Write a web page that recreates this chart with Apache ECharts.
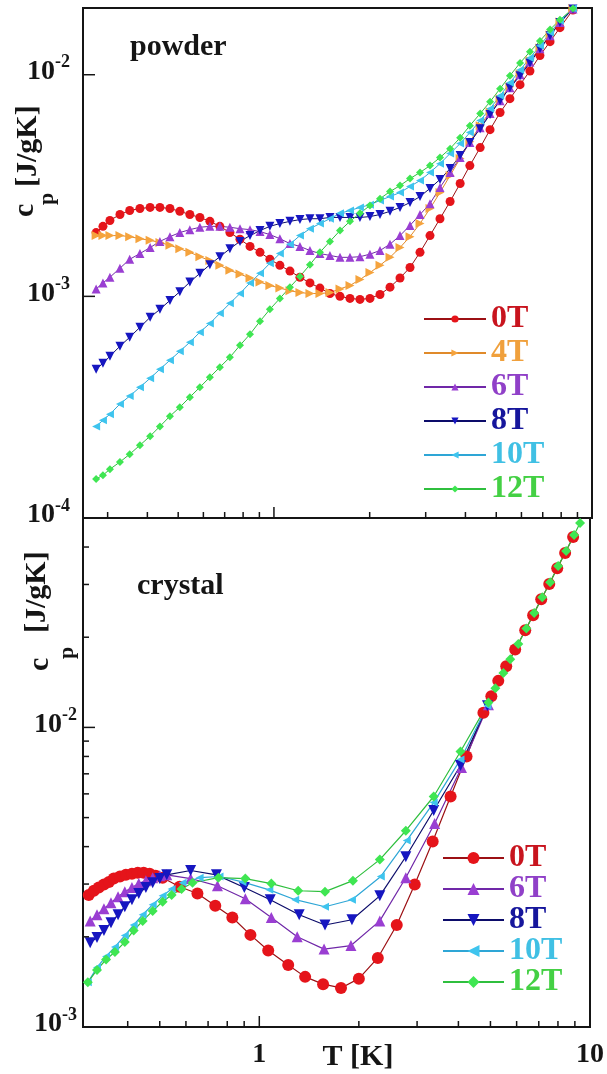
<!DOCTYPE html>
<html>
<head>
<meta charset="utf-8">
<script src="https://cdn.jsdelivr.net/npm/echarts@6/dist/echarts.min.js"></script>
<style>
html, body { margin: 0; padding: 0; background: #ffffff; }
#chart { width: 607px; height: 1074px; }
</style>
</head>
<body>
<div id="chart"></div>
<script>
// ---------- powder sample: temperature grid (K) shared by every field ----------
const powderT = [0.276,0.290,0.305,0.328,0.352,0.379,0.408,0.438,0.471,0.506,
  0.544,0.585,0.629,0.676,0.727,0.782,0.841,0.904,0.971,1.044,
  1.123,1.207,1.298,1.395,1.500,1.613,1.734,1.864,2.004,2.155,
  2.317,2.491,2.678,2.879,3.095,3.327,3.58,3.85,4.13,4.45,
  4.78,5.14,5.52,5.94,6.38,6.86,7.38,7.93,8.71];

// specific heat c_p (J/gK) of the powder
const powder0T = [1.94e-3,2.07e-3,2.20e-3,2.34e-3,2.44e-3,2.49e-3,2.52e-3,2.52e-3,2.49e-3,2.42e-3,
  2.34e-3,2.27e-3,2.18e-3,2.07e-3,1.94e-3,1.81e-3,1.68e-3,1.58e-3,1.47e-3,1.38e-3,
  1.30e-3,1.22e-3,1.15e-3,1.09e-3,1.03e-3,1.00e-3,9.79e-4,9.69e-4,9.79e-4,1.02e-3,
  1.10e-3,1.21e-3,1.35e-3,1.58e-3,1.88e-3,2.24e-3,2.68e-3,3.23e-3,3.89e-3,4.69e-3,
  5.65e-3,6.75e-3,7.80e-3,9.02e-3,1.04e-2,1.22e-2,1.41e-2,1.63e-2,1.96e-2];
const powder4T = [1.88e-3,1.88e-3,1.88e-3,1.88e-3,1.86e-3,1.82e-3,1.79e-3,1.75e-3,1.70e-3,1.64e-3,
  1.58e-3,1.51e-3,1.45e-3,1.38e-3,1.31e-3,1.26e-3,1.21e-3,1.16e-3,1.12e-3,1.09e-3,
  1.06e-3,1.04e-3,1.03e-3,1.03e-3,1.04e-3,1.08e-3,1.12e-3,1.19e-3,1.28e-3,1.38e-3,
  1.50e-3,1.66e-3,1.86e-3,2.13e-3,2.49e-3,2.94e-3,3.51e-3,4.19e-3,4.99e-3,5.89e-3,
  6.81e-3,7.80e-3,8.83e-3,1.01e-2,1.16e-2,1.32e-2,1.51e-2,1.73e-2,1.99e-2];
const powder6T = [1.08e-3,1.15e-3,1.22e-3,1.34e-3,1.47e-3,1.56e-3,1.66e-3,1.77e-3,1.86e-3,1.94e-3,
  2.00e-3,2.05e-3,2.07e-3,2.07e-3,2.05e-3,2.02e-3,2.00e-3,1.96e-3,1.90e-3,1.82e-3,
  1.73e-3,1.68e-3,1.61e-3,1.56e-3,1.53e-3,1.50e-3,1.50e-3,1.51e-3,1.55e-3,1.61e-3,
  1.72e-3,1.88e-3,2.09e-3,2.34e-3,2.62e-3,3.10e-3,3.62e-3,4.23e-3,4.94e-3,5.77e-3,
  6.68e-3,7.64e-3,8.74e-3,1.00e-2,1.14e-2,1.31e-2,1.50e-2,1.72e-2,1.98e-2];
const powder8T = [4.69e-4,4.99e-4,5.37e-4,5.96e-4,6.54e-4,7.25e-4,8.04e-4,8.74e-4,9.59e-4,1.05e-3,
  1.16e-3,1.27e-3,1.39e-3,1.51e-3,1.64e-3,1.77e-3,1.88e-3,1.98e-3,2.07e-3,2.13e-3,
  2.18e-3,2.22e-3,2.24e-3,2.24e-3,2.27e-3,2.27e-3,2.27e-3,2.27e-3,2.29e-3,2.34e-3,
  2.42e-3,2.52e-3,2.65e-3,2.82e-3,3.07e-3,3.37e-3,3.77e-3,4.32e-3,4.94e-3,5.71e-3,
  6.61e-3,7.64e-3,8.74e-3,9.90e-3,1.13e-2,1.31e-2,1.50e-2,1.72e-2,1.98e-2];
const powder10T = [2.59e-4,2.76e-4,2.94e-4,3.27e-4,3.55e-4,3.89e-4,4.27e-4,4.69e-4,5.15e-4,5.65e-4,
  6.21e-4,6.89e-4,7.55e-4,8.38e-4,9.30e-4,1.03e-3,1.15e-3,1.27e-3,1.41e-3,1.56e-3,
  1.72e-3,1.88e-3,2.02e-3,2.13e-3,2.24e-3,2.37e-3,2.44e-3,2.52e-3,2.59e-3,2.71e-3,
  2.82e-3,2.94e-3,3.13e-3,3.33e-3,3.62e-3,3.97e-3,4.41e-3,4.89e-3,5.48e-3,6.21e-3,
  7.03e-3,8.04e-3,9.20e-3,1.05e-2,1.19e-2,1.35e-2,1.55e-2,1.75e-2,1.99e-2];
const powder12T = [1.50e-4,1.56e-4,1.66e-4,1.79e-4,1.94e-4,2.13e-4,2.34e-4,2.59e-4,2.88e-4,3.16e-4,
  3.51e-4,3.89e-4,4.32e-4,4.79e-4,5.31e-4,6.01e-4,6.75e-4,7.72e-4,8.74e-4,9.79e-4,
  1.10e-3,1.23e-3,1.39e-3,1.58e-3,1.77e-3,1.98e-3,2.18e-3,2.37e-3,2.57e-3,2.76e-3,
  2.97e-3,3.16e-3,3.40e-3,3.62e-3,3.89e-3,4.23e-3,4.64e-3,5.20e-3,5.89e-3,6.68e-3,
  7.55e-3,8.65e-3,9.90e-3,1.13e-2,1.27e-2,1.42e-2,1.60e-2,1.77e-2,1.99e-2];

// ---------- crystal sample: each field has its own temperature points ----------
const crystalT0 = [0.305,0.316,0.327,0.339,0.351,0.363,0.379,0.395,0.412,0.429,0.447,0.466,0.486,0.510,
  0.574,0.650,0.736,0.829,0.940,1.064,1.223,1.376,1.559,1.766,2.000,2.282,2.604,2.951,3.344,3.788,4.234,
  4.761,5.031,5.28,5.58,5.94,6.37,6.73,7.12,7.53,7.96,8.41,8.89];
const crystalCp0 = [2.76e-3,2.85e-3,2.92e-3,2.99e-3,3.05e-3,3.13e-3,3.18e-3,3.22e-3,3.25e-3,3.27e-3,3.27e-3,3.25e-3,3.20e-3,3.15e-3,
  2.94e-3,2.79e-3,2.54e-3,2.32e-3,2.03e-3,1.80e-3,1.61e-3,1.47e-3,1.39e-3,1.35e-3,1.45e-3,1.70e-3,2.19e-3,2.99e-3,4.16e-3,5.88e-3,8.00e-3,
  1.12e-2,1.27e-2,1.43e-2,1.60e-2,1.82e-2,2.11e-2,2.37e-2,2.68e-2,3.01e-2,3.40e-2,3.82e-2,4.32e-2];
const crystalT6 = [0.308,0.323,0.339,0.356,0.374,0.392,0.412,0.432,0.454,0.476,0.500,0.525,
  0.620,0.747,0.907,1.087,1.302,1.570,1.893,2.314,2.773,3.390,4.088,4.930];
const crystalCp6 = [2.26e-3,2.37e-3,2.48e-3,2.60e-3,2.72e-3,2.83e-3,2.92e-3,3.01e-3,3.08e-3,3.15e-3,3.20e-3,3.22e-3,
  3.13e-3,2.96e-3,2.68e-3,2.32e-3,2.00e-3,1.82e-3,1.87e-3,2.26e-3,3.15e-3,4.78e-3,7.35e-3,1.19e-2];
const crystalT8 = [0.308,0.323,0.339,0.356,0.374,0.392,0.412,0.432,0.454,0.476,0.500,0.525,
  0.620,0.742,0.901,1.079,1.320,1.580,1.906,2.314,2.773,3.367,4.059,4.896];
const crystalCp8 = [1.91e-3,1.99e-3,2.10e-3,2.23e-3,2.37e-3,2.52e-3,2.66e-3,2.79e-3,2.92e-3,3.03e-3,3.13e-3,3.22e-3,
  3.33e-3,3.22e-3,2.92e-3,2.66e-3,2.37e-3,2.19e-3,2.28e-3,2.74e-3,3.70e-3,5.28e-3,7.46e-3,1.18e-2];
const crystalT10 = [0.303,0.323,0.344,0.366,0.392,0.417,0.444,0.476,0.510,0.543,0.586,
  0.660,0.758,0.889,1.072,1.284,1.580,1.906,2.330,2.792,3.367,4.059,4.896];
const crystalCp10 = [1.41e-3,1.58e-3,1.72e-3,1.85e-3,2.02e-3,2.19e-3,2.37e-3,2.56e-3,2.74e-3,2.89e-3,3.03e-3,
  3.15e-3,3.18e-3,3.05e-3,2.87e-3,2.66e-3,2.52e-3,2.66e-3,3.18e-3,4.19e-3,5.61e-3,7.82e-3,1.18e-2];
const crystalT12 = [0.303,0.323,0.344,0.366,0.392,0.417,0.444,0.476,0.510,0.543,0.582,0.628,
  0.752,0.907,1.087,1.311,1.580,1.919,2.314,2.773,3.367,4.059,4.930,
  5.174,5.47,5.74,6.07,6.42,6.78,7.17,7.58,8.01,8.47,8.95,9.33];
const crystalCp12 = [1.41e-3,1.55e-3,1.68e-3,1.78e-3,1.92e-3,2.10e-3,2.26e-3,2.44e-3,2.62e-3,2.76e-3,2.89e-3,3.03e-3,
  3.15e-3,3.13e-3,3.01e-3,2.85e-3,2.83e-3,3.08e-3,3.62e-3,4.52e-3,5.88e-3,8.31e-3,1.21e-2,
  1.35e-2,1.52e-2,1.69e-2,1.90e-2,2.14e-2,2.41e-2,2.72e-2,3.05e-2,3.46e-2,3.88e-2,4.39e-2,4.81e-2];

// ---------- legend names and tick values ----------
const powderFields = ['0T', '4T', '6T', '8T', '10T', '12T'];
const crystalFields = ['0T', '6T', '8T', '10T', '12T'];
const decadeT = [1];
const powderMinorT = [0.3, 0.4, 0.5, 0.6, 0.7, 0.8, 0.9, 2, 3, 4, 5, 6, 7, 8, 9];
const crystalMinorT = [0.4, 0.5, 0.6, 0.7, 0.8, 0.9, 2, 3, 4, 5, 6, 7, 8, 9];
const powderDecadeCp = [1e-3, 1e-2];
const crystalDecadeCp = [1e-2];
const crystalMinorCp = [0.002, 0.003, 0.004, 0.005, 0.006, 0.007, 0.008, 0.009, 0.02, 0.03, 0.04];

// axis extents
const powderT_MIN = 0.251, T_MAX = 10, powderCp_MIN = 1e-4, powderCp_MAX = 0.02;
const crystalT_MIN = 0.293, crystalCp_MIN = 1e-3, crystalCp_MAX = 0.05;

// ---------- styling ----------
const SERIF = '"Liberation Serif", "Times New Roman", serif';
const INK = '#151515';
const fieldStyle = {
  '0T':  { fill: '#e5141a', line: '#9c1014', text: '#c8141e', symbol: 'circle' },
  '4T':  { fill: '#f5a33d', line: '#e08a2a', text: '#f0a03c', symbol: 'path://M0,0L10,5L0,10Z' },
  '6T':  { fill: '#9a3ed2', line: '#7028a8', text: '#9040c8', symbol: 'triangle' },
  '8T':  { fill: '#1616c0', line: '#0c0c6a', text: '#16169c', symbol: 'path://M0,0L10,0L5,10Z' },
  '10T': { fill: '#3ec4ee', line: '#2ea6d6', text: '#40c0e4', symbol: 'path://M10,0L0,5L10,10Z' },
  '12T': { fill: '#3fe652', line: '#2fbf3e', text: '#44d044', symbol: 'diamond' }
};
const powderSymbolSize = { '0T': 9, '4T': 9, '6T': 9, '8T': 9, '10T': 8, '12T': 8 };
const crystalSymbolSize = { '0T': 12, '6T': 11, '8T': 11, '10T': 8, '12T': 10 };

function pairs(xs, ys) { return xs.map((x, i) => [x, ys[i]]); }

function curve(name, data, gridIdx, size, lw) {
  const s = fieldStyle[name];
  return {
    type: 'line', name: name, data: data,
    xAxisIndex: gridIdx, yAxisIndex: gridIdx,
    symbol: s.symbol, symbolSize: size, showSymbol: true,
    lineStyle: { color: s.line, width: lw },
    itemStyle: { color: s.fill },
    emphasis: { disabled: true },
    animation: false, z: 3
  };
}

// tick marks drawn inside the frame through the axis scales
function xTicks(gridIdx, values, yBase, len) {
  return {
    type: 'custom', xAxisIndex: gridIdx, yAxisIndex: gridIdx, silent: true, z: 6,
    data: values.map(v => [v, yBase]),
    renderItem: function (params, api) {
      const p = api.coord([api.value(0), api.value(1)]);
      return { type: 'line', shape: { x1: p[0], y1: p[1], x2: p[0], y2: p[1] - len },
               style: { stroke: INK, lineWidth: 1.5 } };
    }
  };
}
function yTicks(gridIdx, values, xBase, len) {
  return {
    type: 'custom', xAxisIndex: gridIdx, yAxisIndex: gridIdx, silent: true, z: 6,
    data: values.map(v => [xBase, v]),
    renderItem: function (params, api) {
      const p = api.coord([api.value(0), api.value(1)]);
      return { type: 'line', shape: { x1: p[0], y1: p[1], x2: p[0] + len, y2: p[1] },
               style: { stroke: INK, lineWidth: 1.5 } };
    }
  };
}

function decadeLabel(v) {
  const lg = Math.log10(v);
  const e = Math.round(lg);
  if (Math.abs(lg - e) > 1e-6) return '';
  return '{m|10}{e|' + e + '}';
}
const decadeRich = {
  m: { fontFamily: SERIF, fontWeight: 'bold', fontSize: 28, lineHeight: 32, verticalAlign: 'bottom', color: INK },
  e: { fontFamily: SERIF, fontWeight: 'bold', fontSize: 18, lineHeight: 18, verticalAlign: 'top', color: INK }
};

function legendFor(names, left, top, itemH, gap, width) {
  return {
    orient: 'vertical', left: left, top: top, padding: 0, selectedMode: false,
    itemWidth: width, itemHeight: itemH, itemGap: gap,
    textStyle: { fontFamily: SERIF, fontWeight: 'bold', fontSize: 32 },
    data: names.map(n => ({ name: n, textStyle: { color: fieldStyle[n].text } }))
  };
}

const powderData = {
  '0T': powder0T, '4T': powder4T, '6T': powder6T, '8T': powder8T, '10T': powder10T, '12T': powder12T
};
const crystalData = {
  '0T': pairs(crystalT0, crystalCp0), '6T': pairs(crystalT6, crystalCp6), '8T': pairs(crystalT8, crystalCp8),
  '10T': pairs(crystalT10, crystalCp10), '12T': pairs(crystalT12, crystalCp12)
};

const series = [];
powderFields.forEach(n => series.push(curve(n, pairs(powderT, powderData[n]), 0, powderSymbolSize[n], 1)));
crystalFields.forEach(n => series.push(curve(n, crystalData[n], 1, crystalSymbolSize[n], 1.2)));
series.push(xTicks(0, powderMinorT, powderCp_MIN, 6));
series.push(xTicks(0, decadeT, powderCp_MIN, 11));
series.push(yTicks(0, powderDecadeCp, powderT_MIN, 12));
series.push(xTicks(1, crystalMinorT, crystalCp_MIN, 6));
series.push(xTicks(1, decadeT, crystalCp_MIN, 11));
series.push(yTicks(1, crystalMinorCp, crystalT_MIN, 6));
series.push(yTicks(1, crystalDecadeCp, crystalT_MIN, 12));

function titleGroup(x, y, pOffset, bracketOffset) {
  const base = { fontFamily: SERIF, fontWeight: 'bold', fill: INK, textVerticalAlign: 'middle', verticalAlign: 'middle', textAlign: 'left', align: 'left' };
  return {
    type: 'group', x: x, y: y, rotation: Math.PI / 2, silent: true,
    children: [
      { type: 'text', x: 0, y: 0, style: Object.assign({ text: 'c', fontSize: 30 }, base) },
      { type: 'text', x: 12, y: pOffset, style: Object.assign({ text: 'p', fontSize: 22 }, base) },
      { type: 'text', x: bracketOffset[0], y: bracketOffset[1], style: Object.assign({ text: '[J/gK]', fontSize: 30 }, base) }
    ]
  };
}

const chart = echarts.init(document.getElementById('chart'), null, { renderer: 'canvas' });
chart.setOption({
  backgroundColor: '#ffffff',
  animation: false,
  grid: [
    { left: 83, top: 8, width: 509, height: 510, show: true, borderColor: INK, borderWidth: 2, backgroundColor: 'transparent' },
    { left: 83, top: 518, width: 509, height: 509, show: true, borderColor: INK, borderWidth: 2, backgroundColor: 'transparent' }
  ],
  xAxis: [
    { type: 'log', gridIndex: 0, min: powderT_MIN, max: T_MAX,
      axisLine: { show: false }, axisTick: { show: false }, splitLine: { show: false }, axisLabel: { show: false } },
    { type: 'log', gridIndex: 1, min: crystalT_MIN, max: T_MAX,
      axisLine: { show: false }, axisTick: { show: false }, splitLine: { show: false },
      axisLabel: { margin: 14, fontFamily: SERIF, fontWeight: 'bold', fontSize: 28, color: INK,
        formatter: function (v) {
          if (Math.abs(v - 1) < 1e-6) return '1';
          if (Math.abs(v - 10) < 1e-6) return '10';
          return '';
        } } }
  ],
  yAxis: [
    { type: 'log', gridIndex: 0, min: powderCp_MIN, max: powderCp_MAX,
      axisLine: { show: false }, axisTick: { show: false }, splitLine: { show: false },
      axisLabel: { margin: 13, formatter: decadeLabel, rich: decadeRich, padding: [0, 0, 10, 0] } },
    { type: 'log', gridIndex: 1, min: crystalCp_MIN, max: crystalCp_MAX,
      axisLine: { show: false }, axisTick: { show: false }, splitLine: { show: false },
      axisLabel: { margin: 6, formatter: decadeLabel, rich: decadeRich, padding: [0, 0, 10, 0] } }
  ],
  legend: [
    legendFor(powderFields, 423, 303, 9, 2, 62),
    legendFor(crystalFields, 442, 842, 15, -1, 61)
  ],
  graphic: [
    titleGroup(25, 217, 22, [30, 3]),
    titleGroup(40, 671, 27, [38, -3]),
    { type: 'text', x: 130, y: 47, silent: true,
      style: { text: 'powder', fontFamily: SERIF, fontWeight: 'bold', fontSize: 30, fill: INK,
               textAlign: 'left', align: 'left', textVerticalAlign: 'middle', verticalAlign: 'middle' } },
    { type: 'text', x: 137, y: 586, silent: true,
      style: { text: 'crystal', fontFamily: SERIF, fontWeight: 'bold', fontSize: 30, fill: INK,
               textAlign: 'left', align: 'left', textVerticalAlign: 'middle', verticalAlign: 'middle' } },
    { type: 'text', x: 358, y: 1057, silent: true,
      style: { text: 'T [K]', fontFamily: SERIF, fontWeight: 'bold', fontSize: 30, fill: INK,
               textAlign: 'center', align: 'center', textVerticalAlign: 'middle', verticalAlign: 'middle' } }
  ],
  series: series
});
</script>
</body>
</html>
